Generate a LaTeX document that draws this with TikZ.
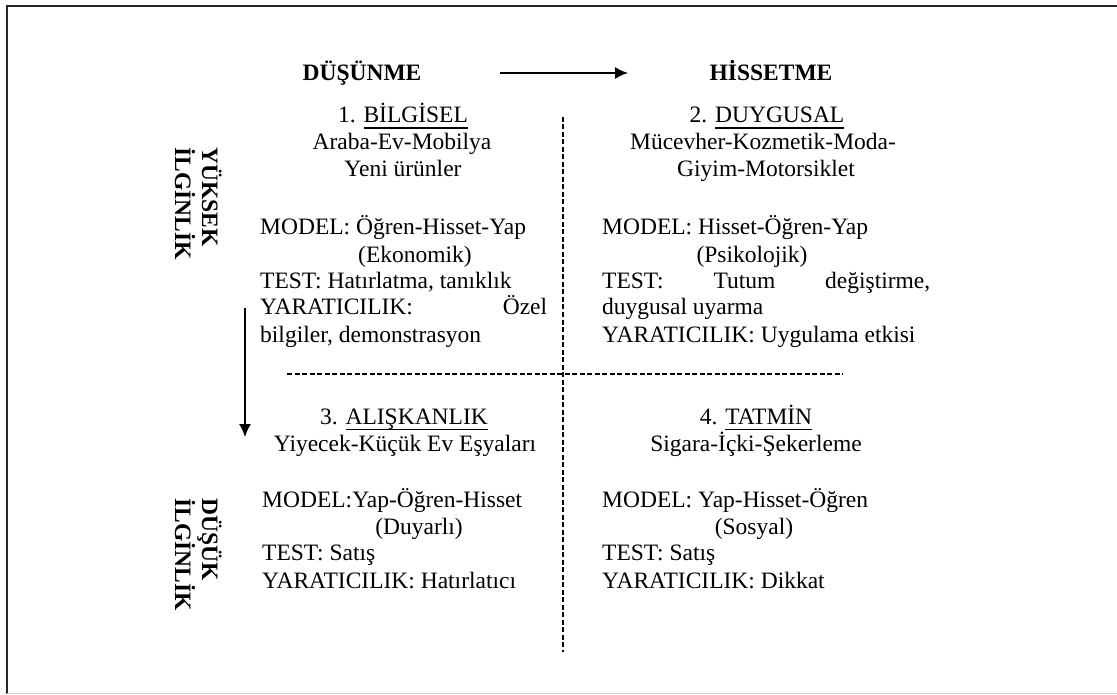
\documentclass[tikz,border=0pt]{standalone}
\usepackage{fontspec}
\setmainfont{Liberation Serif}
\usetikzlibrary{arrows.meta}

% underline set at a fixed depth below the baseline
\newcommand\ulword[1]{\setbox0\hbox{#1}\rlap{\rule[-6pt]{\wd0}{1.5pt}}\box0}

\tikzset{
  txt/.style={font=\fontsize{23.5}{27}\selectfont, inner sep=0pt, anchor=base west},
  ctxt/.style={txt, anchor=base},
  head/.style={ctxt, font=\fontsize{23.5}{27}\selectfont\bfseries},
  side/.style={txt, font=\fontsize{23.5}{27}\selectfont\bfseries, rotate=-90},
  divider/.style={line width=1.4pt, dash pattern=on 5pt off 2.5pt},
  flow/.style={line width=1.4pt, -{Latex[length=13pt,width=12pt]}},
  frameline/.style={line width=1.8pt, black!85}
}

\begin{document}
\begin{tikzpicture}[x=1pt,y=-1pt]
\useasboundingbox (0,0) rectangle (1117,695);

% outer frame
\draw[frameline] (1117,6) -- (7,6) -- (7,694);
\draw[black!20, line width=1pt] (7,693.5) -- (1117,693.5);

% axis headings
\node[head] (think) at (362,81) {DÜŞÜNME};
\node[head] (feel) at (771,81) {HİSSETME};
\coordinate (hs) at (500,73);
\coordinate (he) at (628,73);
\draw[flow] (hs) -- (he);

\node[side] (high1) at (202,147) {YÜKSEK};
\node[side] (high2) at (175,147) {İLGİNLİK};
\node[side] (low1) at (202,498) {DÜŞÜK};
\node[side] (low2) at (175,498) {İLGİNLİK};
\coordinate (vs) at (245,308);
\coordinate (ve) at (245,437);
\draw[flow] (vs) -- (ve);

% quadrant dividers
\coordinate (dtop) at (563,117);
\coordinate (dbot) at (563,652);
\coordinate (dleft) at (287,374);
\coordinate (dright) at (843,374);
\draw[divider] (dtop) -- (dbot);
\draw[divider] (dleft) -- (dright);

% 1. Bilgisel
\node[ctxt] (q1t) at (403,123) {1. \ulword{BİLGİSEL}};
\node[ctxt] (q1a) at (402,150) {Araba-Ev-Mobilya};
\node[ctxt] (q1b) at (403,177) {Yeni ürünler};
\node[txt] (q1m) at (260,235) {MODEL: Öğren-Hisset-Yap};
\node[ctxt] (q1k) at (415,262) {(Ekonomik)};
\node[txt] (q1s) at (260,289) {TEST: Hatırlatma, tanıklık};
\node[txt] (q1y) at (260,315) {\makebox[287pt][s]{YARATICILIK: Özel}};
\node[txt] (q1z) at (260,342) {bilgiler, demonstrasyon};

% 2. Duygusal
\node[ctxt] (q2t) at (767,123) {2. \ulword{DUYGUSAL}};
\node[ctxt] (q2a) at (763,150) {Mücevher-Kozmetik-Moda-};
\node[ctxt] (q2b) at (766,177) {Giyim-Motorsiklet};
\node[txt] (q2m) at (602,235) {MODEL: Hisset-Öğren-Yap};
\node[ctxt] (q2k) at (752,262) {(Psikolojik)};
\node[txt] (q2s) at (602,289) {\makebox[328pt][s]{TEST: Tutum değiştirme,}};
\node[txt] (q2u) at (602,315) {duygusal uyarma};
\node[txt] (q2y) at (602,342) {YARATICILIK: Uygulama etkisi};

% 3. Alışkanlık
\node[ctxt] (q3t) at (404,424) {3. \ulword{ALIŞKANLIK}};
\node[ctxt] (q3a) at (405,451) {Yiyecek-Küçük Ev Eşyaları};
\node[txt] (q3m) at (262,507) {MODEL:Yap-Öğren-Hisset};
\node[ctxt] (q3k) at (419,534) {(Duyarlı)};
\node[txt] (q3s) at (262,560) {TEST: Satış};
\node[txt] (q3y) at (262,588) {YARATICILIK: Hatırlatıcı};

% 4. Tatmin
\node[ctxt] (q4t) at (756,424) {4. \ulword{TATMİN}};
\node[ctxt] (q4a) at (756,451) {Sigara-İçki-Şekerleme};
\node[txt] (q4m) at (602,507) {MODEL: Yap-Hisset-Öğren};
\node[ctxt] (q4k) at (754,534) {(Sosyal)};
\node[txt] (q4s) at (602,560) {TEST: Satış};
\node[txt] (q4y) at (602,588) {YARATICILIK: Dikkat};
\end{tikzpicture}
\end{document}
